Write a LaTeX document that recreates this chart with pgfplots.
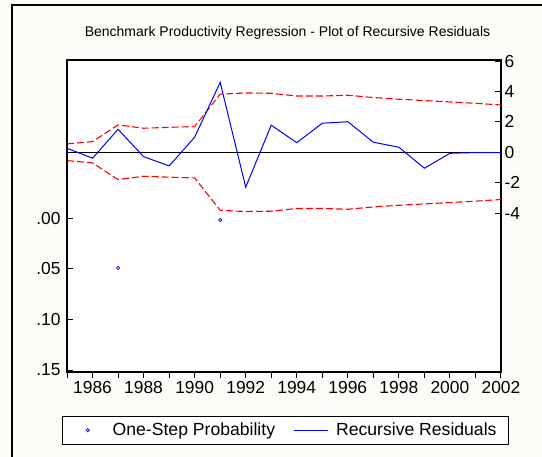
\documentclass[border=0pt]{standalone}
\usepackage{pgfplots}
\pgfplotsset{compat=1.18}
\usepackage{fontspec}
\setmainfont{Liberation Sans}
\definecolor{bg}{RGB}{252,252,248}
\newcommand\tf{\fontsize{17.4}{20}\selectfont}
\newcommand\lf{\fontsize{17.6}{20}\selectfont}
\pgfplotsset{
  myline/.style={legend image code/.code={\draw[##1] (0pt,0pt) -- (34pt,0pt);}},
  mymark/.style={legend image code/.code={\path[draw=none,fill=none] (0pt,0pt) -- (34pt,0pt);
    \draw[blue, fill=none, line width=0.7pt] (17pt,0pt) circle[radius=1.6pt];}},
}

\pgfplotstableread{
year res up lo
1985 0.26 0.55 -0.55
1986 -0.39 0.70 -0.70
1987 1.51 1.80 -1.80
1988 -0.29 1.58 -1.58
1989 -0.90 1.64 -1.64
1990 0.99 1.69 -1.69
1991 4.60 3.82 -3.82
1992 -2.30 3.90 -3.90
1993 1.78 3.88 -3.88
1994 0.63 3.70 -3.70
1995 1.91 3.70 -3.70
1996 2.01 3.75 -3.75
1997 0.66 3.60 -3.60
1998 0.33 3.49 -3.49
1999 -1.05 3.40 -3.40
2000 -0.07 3.31 -3.31
2001 -0.02 3.22 -3.22
2002 -0.03 3.11 -3.11
}\resid

\pgfplotstableread{
year prob
1987 0.049
1991 0.0017
}\probs

\begin{document}
\begin{tikzpicture}
\fill[bg] (0pt,0pt) rectangle (542pt,-457pt);
\path[use as bounding box] (0pt,0pt) rectangle (542pt,-457pt);
\draw[line width=1.5pt] (12pt,-457pt) -- (12pt,-5pt) -- (542pt,-5pt);
\node[font=\fontsize{14}{16}\selectfont] at (287.5pt,-33pt) {Benchmark Productivity Regression - Plot of Recursive Residuals};

% box + x axis
\begin{axis}[at={(67pt,-60pt)}, anchor=north west, scale only axis,
  width=434pt, height=312pt,
  xmin=1985, xmax=2002, ymin=0, ymax=1,
  ytick=\empty,
  axis background/.style={fill=white},
  axis line style={line width=1.4pt},
  xtick pos=left, tick align=outside, major tick length=6pt,
  xtick={1985,...,2002},
  xticklabels={,1986,,1988,,1990,,1992,,1994,,1996,,1998,,2000,,2002},
  xticklabel style={font=\tf},
  tick style={line width=1pt, black},
]
\end{axis}

% residual axis (right)
\begin{axis}[at={(67pt,-60pt)}, anchor=north west, scale only axis,
  width=434pt, height=312pt,
  xmin=1985, xmax=2002, ymin=-14.46, ymax=6.07,
  hide x axis, axis y line*=right,
  axis line style={line width=1.4pt, -},
  tick align=inside, major tick length=6.5pt,
  tick style={line width=1pt, black},
  ytick={-4,-2,0,2,4,6},
  yticklabels={-4,-2,0,2,4,6},
  yticklabel style={font=\tf},
  legend columns=2,
  legend cell align=left,
  legend style={at={(axis description cs:-0.0108,-0.140)}, anchor=north west,
    draw=black, line width=0.8pt, fill=white, font=\lf,
    inner xsep=8pt, inner ysep=3pt,
    nodes={inner xsep=4pt, inner ysep=4pt},
    /tikz/every odd column/.append style={column sep=4pt},
    /tikz/every even column/.append style={column sep=14pt}},
]
\addlegendimage{mymark}
\addlegendentry{One-Step Probability}
\addplot[black, line width=1pt, forget plot] coordinates {(1985,0) (2002,0)};
\addplot[red, line width=1.1pt, dash pattern=on 7pt off 3pt, forget plot] table[x=year, y=up] {\resid};
\addplot[red, line width=1.1pt, dash pattern=on 7pt off 3pt, forget plot] table[x=year, y=lo] {\resid};
\addplot[blue, line width=1pt, myline] table[x=year, y=res] {\resid};
\addlegendentry{Recursive Residuals}
\end{axis}

% probability axis (left, reversed)
\begin{axis}[at={(67pt,-60pt)}, anchor=north west, scale only axis,
  width=434pt, height=312pt,
  xmin=1985, xmax=2002, ymin=-0.1564, ymax=0.1519, y dir=reverse,
  hide x axis, axis y line*=left,
  axis line style={line width=1.4pt, -},
  tick align=inside, major tick length=6.5pt,
  tick style={line width=1pt, black},
  ytick={0,0.05,0.10,0.15},
  yticklabels={.00,.05,.10,.15},
  yticklabel style={font=\tf, xshift=-3pt},
]
\addplot[blue, only marks, mark=o, mark size=1.6pt, line width=0.7pt] table[x=year, y=prob] {\probs};
\end{axis}
\end{tikzpicture}
\end{document}
